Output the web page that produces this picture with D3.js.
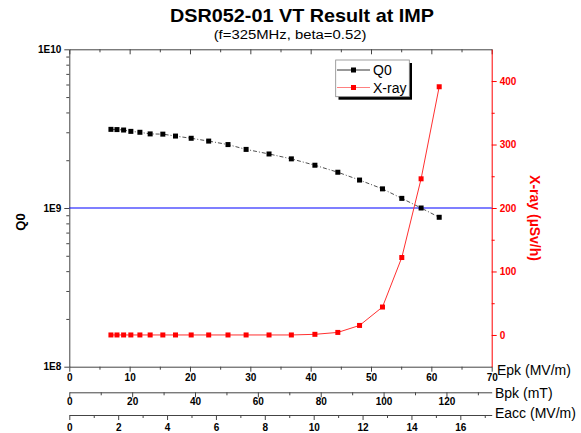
<!DOCTYPE html>
<html lang="en">
<head>
    <meta charset="UTF-8">
    <title>DSR052-01 VT Result at IMP</title>
    <script src="https://d3js.org/d3.v7.min.js"></script>
</head>
<style>
    body { margin: 0; background: #fff; }
    svg { font-family: "Liberation Sans", Arial, sans-serif; }
    .tick text { font-weight: bold; font-size: 10px; }
</style>
<body>
    <div id="chart"></div>
    <script>
        // data
        const epk = [6.9, 7.9, 9.0, 10.2, 11.7, 13.4, 15.5, 17.6, 20.2, 23.1, 26.3, 29.3, 33.1, 36.8, 40.7, 44.5, 48.1, 51.9, 55.1, 58.3, 61.3];
        const q0 = [3.13e9, 3.12e9, 3.10e9, 3.04e9, 3.00e9, 2.93e9, 2.92e9, 2.84e9, 2.75e9, 2.64e9, 2.51e9, 2.34e9, 2.19e9, 2.04e9, 1.86e9, 1.68e9, 1.50e9, 1.32e9, 1.15e9, 1.00e9, 0.874e9];
        const xray = [0, 0, 0, 0, 0, 0, 0, 0, 0, 0, 0, 0, 0, 0, 1, 4, 15, 44, 122, 246, 391];
        const epkTicks = [0, 10, 20, 30, 40, 50, 60, 70];
        const bpkTicks = [0, 20, 40, 60, 80, 100, 120];
        const eaccTicks = [0, 2, 4, 6, 8, 10, 12, 14, 16];
        const xrayTicks = [0, 100, 200, 300, 400];
        const q0Ticks = [1e8, 1e9, 1e10];
        const bpkPerEpk = 1.92;   // mT per MV/m
        const epkPerEacc = 4.05;

        const W = 581, H = 433;
        const pLeft = 69.3, pRight = 491.7, pTop = 49.3, pBottom = 366.7;

        const svg = d3.select('#chart').append('svg')
            .attr('width', W)
            .attr('height', H);

        const x = d3.scaleLinear().domain([0, 70]).range([pLeft, pRight]);
        const xB = d3.scaleLinear().domain([0, 70 * bpkPerEpk]).range([pLeft, pRight]);
        const xE = d3.scaleLinear().domain([0, 70 / epkPerEacc]).range([pLeft, pRight]);
        const yQ = d3.scaleLog().domain([1e8, 1e10]).range([pBottom, pTop]);
        const yX = d3.scaleLinear().domain([-50, 450]).range([pBottom, pTop]);

        // titles (the original is a little stretched sideways)
        svg.append('text')
            .attr('transform', 'translate(302,22) scale(1.1,1)')
            .attr('text-anchor', 'middle')
            .attr('font-size', '18px').attr('font-weight', 'bold')
            .text('DSR052-01 VT Result at IMP');
        svg.append('text')
            .attr('transform', 'translate(290,39) scale(1.1,1)')
            .attr('text-anchor', 'middle')
            .attr('font-size', '13.5px')
            .text('(f=325MHz, beta=0.52)');

        // minor ticks helper
        function minor(axisFn, scale, values, size, g) {
            g.call(axisFn(scale).tickValues(values).tickSize(size).tickFormat(''));
            g.select('.domain').remove();
        }
        function range(a, b, s) { return d3.range(a, b + 0.001, s); }

        // bottom Epk axis
        const gx = svg.append('g').attr('transform', `translate(0,${pBottom})`);
        minor(d3.axisBottom, x, range(5, 65, 10), 3, gx.append('g'));
        gx.append('g').call(d3.axisBottom(x).tickValues(epkTicks).tickSize(5).tickSizeOuter(0).tickPadding(2));

        // top axis (inward ticks, no labels)
        const gt = svg.append('g').attr('transform', `translate(0,${pTop})`);
        minor(d3.axisTop, x, range(5, 65, 10), -3, gt.append('g'));
        gt.append('g').call(d3.axisTop(x).tickValues(epkTicks).tickSize(-5).tickSizeOuter(0).tickFormat(''));

        // Bpk axis
        const gb = svg.append('g').attr('transform', `translate(0,392.3)`);
        minor(d3.axisBottom, xB, range(10, 130, 20), 3, gb.append('g'));
        gb.append('g').call(d3.axisBottom(xB).tickValues(bpkTicks).tickSize(5).tickSizeOuter(0).tickPadding(1));

        // Eacc axis
        const ge = svg.append('g').attr('transform', `translate(0,415)`);
        minor(d3.axisBottom, xE, range(1, 17, 2), 3, ge.append('g'));
        ge.append('g').call(d3.axisBottom(xE).tickValues(eaccTicks).tickSize(5).tickSizeOuter(0).tickPadding(4));

        // left Q0 axis
        const minorQ = [];
        [1e8, 1e9].forEach(dec => { for (let k = 2; k <= 9; k++) minorQ.push(k * dec); });
        const gl = svg.append('g').attr('transform', `translate(${pLeft},0)`);
        minor(d3.axisLeft, yQ, minorQ, 3, gl.append('g'));
        gl.append('g').call(d3.axisLeft(yQ).tickValues(q0Ticks).tickSize(5).tickSizeOuter(0).tickPadding(3)
            .tickFormat(d => '1E' + Math.round(Math.log10(d))));

        // right X-ray axis (red)
        const gr = svg.append('g').attr('transform', `translate(${pRight},0)`);
        minor(d3.axisRight, yX, range(50, 350, 100), 3, gr.append('g'));
        gr.append('g').call(d3.axisRight(yX).tickValues(xrayTicks).tickSize(5).tickSizeOuter(0).tickPadding(3));

        svg.selectAll('.domain').attr('stroke', '#444');
        svg.selectAll('.tick line').attr('stroke', '#444');
        gr.selectAll('line, path').attr('stroke', 'red');
        gr.selectAll('text').attr('fill', 'red');

        // axis labels
        svg.append('text').attr('x', 497).attr('y', 375).attr('font-size', '14px').text('Epk (MV/m)');
        svg.append('text').attr('x', 495).attr('y', 398).attr('font-size', '14px').text('Bpk (mT)');
        svg.append('text').attr('x', 495).attr('y', 418).attr('font-size', '14px').text('Eacc (MV/m)');
        svg.append('text')
            .attr('transform', 'translate(25,222) rotate(-90)')
            .attr('text-anchor', 'middle')
            .attr('font-size', '13px').attr('font-weight', 'bold')
            .text('Q0');
        svg.append('text')
            .attr('transform', 'translate(530,218) rotate(90)')
            .attr('text-anchor', 'middle')
            .attr('font-size', '14px').attr('font-weight', 'bold')
            .attr('fill', 'red')
            .text('X-ray (µSv/h)');

        // 1E9 reference line
        svg.append('line')
            .attr('x1', pLeft).attr('x2', pRight)
            .attr('y1', yQ(1e9)).attr('y2', yQ(1e9))
            .attr('stroke', 'blue').attr('stroke-width', 1.2);

        const q0Data = epk.map((e, i) => [e, q0[i]]);
        const xrData = epk.map((e, i) => [e, xray[i]]);

        // Q0 series
        svg.append('path')
            .datum(q0Data)
            .attr('fill', 'none')
            .attr('stroke', '#222')
            .attr('stroke-width', 0.8)
            .attr('stroke-dasharray', '4,2,1,2')
            .attr('d', d3.line().x(d => x(d[0])).y(d => yQ(d[1])));
        svg.selectAll('.q0pt')
            .data(q0Data)
            .enter()
            .append('rect')
            .attr('class', 'q0pt')
            .attr('x', d => x(d[0]) - 2.5)
            .attr('y', d => yQ(d[1]) - 2.5)
            .attr('width', 5).attr('height', 5)
            .attr('fill', 'black');

        // X-ray series
        svg.append('path')
            .datum(xrData)
            .attr('fill', 'none')
            .attr('stroke', '#ff3030')
            .attr('stroke-width', 1)
            .attr('d', d3.line().x(d => x(d[0])).y(d => yX(d[1])));
        svg.selectAll('.xrpt')
            .data(xrData)
            .enter()
            .append('rect')
            .attr('class', 'xrpt')
            .attr('x', d => x(d[0]) - 2.5)
            .attr('y', d => yX(d[1]) - 2.5)
            .attr('width', 5).attr('height', 5)
            .attr('fill', 'red');

        // legend
        const lg = svg.append('g');
        lg.append('rect').attr('x', 338.5).attr('y', 63).attr('width', 73.5).attr('height', 36.7).attr('fill', 'black');
        lg.append('rect').attr('x', 335.7).attr('y', 60).attr('width', 73.6).attr('height', 36.7)
            .attr('fill', 'white').attr('stroke', '#888').attr('stroke-width', 0.8);
        const items = [{ name: 'Q0', line: '#333', mark: 'black', y: 70 }, { name: 'X-ray', line: '#ff8080', mark: 'red', y: 87.5 }];
        items.forEach(it => {
            lg.append('line').attr('x1', 337).attr('x2', 370).attr('y1', it.y).attr('y2', it.y)
                .attr('stroke', it.line).attr('stroke-width', 1);
            lg.append('rect').attr('x', 351).attr('y', it.y - 2.5).attr('width', 5).attr('height', 5).attr('fill', it.mark);
            lg.append('text').attr('x', 373).attr('y', it.y + 5).attr('font-size', '14px').text(it.name);
        });
    </script>
</body>
</html>
